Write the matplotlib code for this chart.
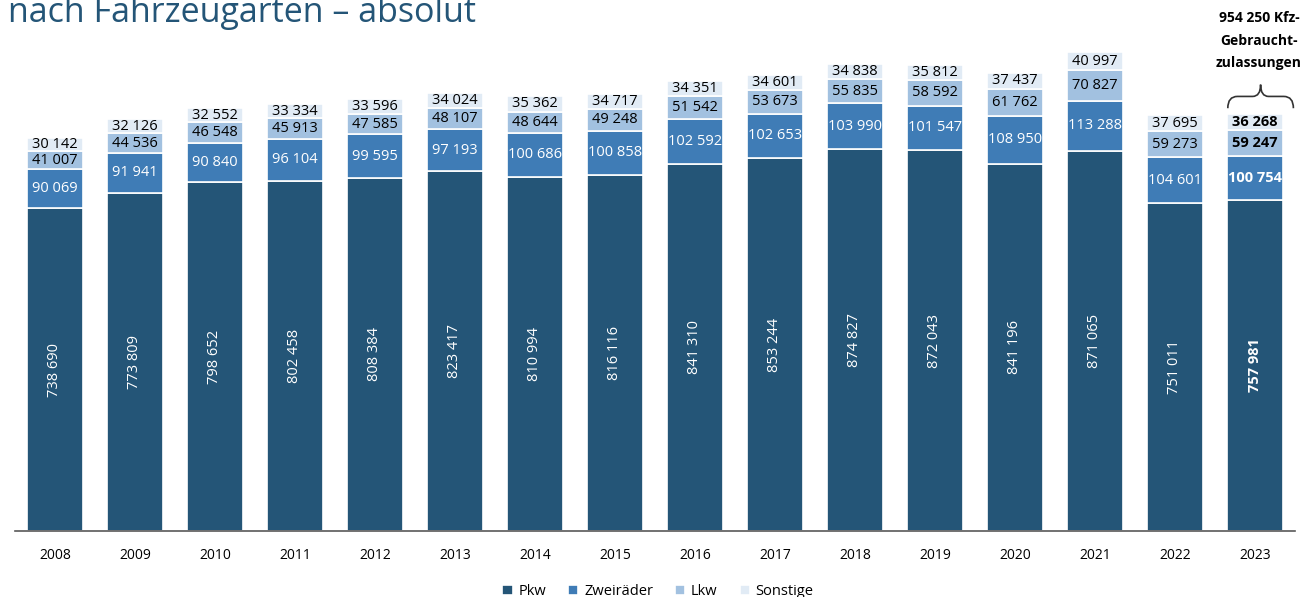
import matplotlib.pyplot as plt
import numpy as np
from matplotlib.path import Path
from matplotlib.patches import PathPatch

plt.rcParams['font.family'] = ['Open Sans', 'DejaVu Sans']

years = [str(y) for y in range(2008, 2024)]
pkw = [738690, 773809, 798652, 802458, 808384, 823417, 810994, 816116,
       841310, 853244, 874827, 872043, 841196, 871065, 751011, 757981]
zweiraeder = [90069, 91941, 90840, 96104, 99595, 97193, 100686, 100858,
              102592, 102653, 103990, 101547, 108950, 113288, 104601, 100754]
lkw = [41007, 44536, 46548, 45913, 47585, 48107, 48644, 49248,
       51542, 53673, 55835, 58592, 61762, 70827, 59273, 59247]
sonstige = [30142, 32126, 32552, 33334, 33596, 34024, 35362, 34717,
            34351, 34601, 34838, 35812, 37437, 40997, 37695, 36268]

series = [("Pkw", pkw, "#245577", "white"),
          ("Zweiräder", zweiraeder, "#3f7cb6", "white"),
          ("Lkw", lkw, "#a2c1e0", "black"),
          ("Sonstige", sonstige, "#e1ebf5", "black")]

def fmt(v):
    return f"{v:,}".replace(",", " ")

fig = plt.figure(figsize=(13.16, 5.97), dpi=100)
ax = fig.add_axes([15/1316, 66/597, 1280/1316, 511/597])

x = np.arange(len(years))
bottom = np.zeros(len(years))
last = len(years) - 1
for name, vals, col, tcol in series:
    vals = np.array(vals)
    ax.bar(x, vals, 0.7, bottom=bottom, color=col, edgecolor="white",
           linewidth=1.2, label=name)
    for i, v in enumerate(vals):
        weight = "bold" if i == last else "normal"
        if name == "Pkw":
            ax.text(x[i], bottom[i] + v / 2, fmt(v), rotation=90, ha="center",
                    va="center", color=tcol, fontsize=10.5, fontweight=weight)
        else:
            ax.text(x[i], bottom[i] + v / 2, fmt(v), ha="center", va="center",
                    color=tcol, fontsize=10.5, fontweight=weight)
    bottom += vals

ax.set_xlim(-0.5, len(years) - 0.5)
ax.set_ylim(0, 1.17e6)
ax.set_xticks(x)
ax.set_xticklabels(years, fontsize=10)
ax.tick_params(axis="x", length=0, pad=12)
ax.set_yticks([])
for s in ["top", "right", "left"]:
    ax.spines[s].set_visible(False)
ax.spines["bottom"].set_color("#595959")
ax.spines["bottom"].set_linewidth(1.2)

# total annotation over 2023
total = int(bottom[last])
ax.text(x[last] + 0.05, 1.19e6, fmt(total) + " Kfz-\nGebraucht-\nzulassungen",
        ha="center", va="top", fontsize=10, fontweight="bold", linespacing=1.75)

# curly brace
xl, xr = x[last] - 0.34, x[last] + 0.48
xm = (xl + xr) / 2
yb, yt = 0.968e6, 1.022e6
ymid = (yb + yt) / 2
verts = [(xl, yb), (xl, ymid), (xl + 0.12, ymid),
         (xm - 0.1, ymid), (xm, ymid), (xm, yt),
         (xm, ymid), (xm + 0.1, ymid),
         (xr - 0.12, ymid), (xr, ymid), (xr, yb)]
codes = [Path.MOVETO, Path.CURVE3, Path.CURVE3,
         Path.LINETO, Path.CURVE3, Path.CURVE3,
         Path.CURVE3, Path.CURVE3,
         Path.LINETO, Path.CURVE3, Path.CURVE3]
ax.add_patch(PathPatch(Path(verts, codes), facecolor="none",
                       edgecolor="#333333", linewidth=1.2, clip_on=False))

fig.legend(loc="lower center", bbox_to_anchor=(0.5, -0.025), ncol=4,
           frameon=False, fontsize=10.5, handlelength=0.7, handleheight=0.7,
           columnspacing=1.5, handletextpad=0.4)

fig.text(0.006, 0.963, "nach Fahrzeugarten – absolut", fontsize=24.5,
         color="#245577", va="baseline")

fig.savefig("out.png", dpi=100)
